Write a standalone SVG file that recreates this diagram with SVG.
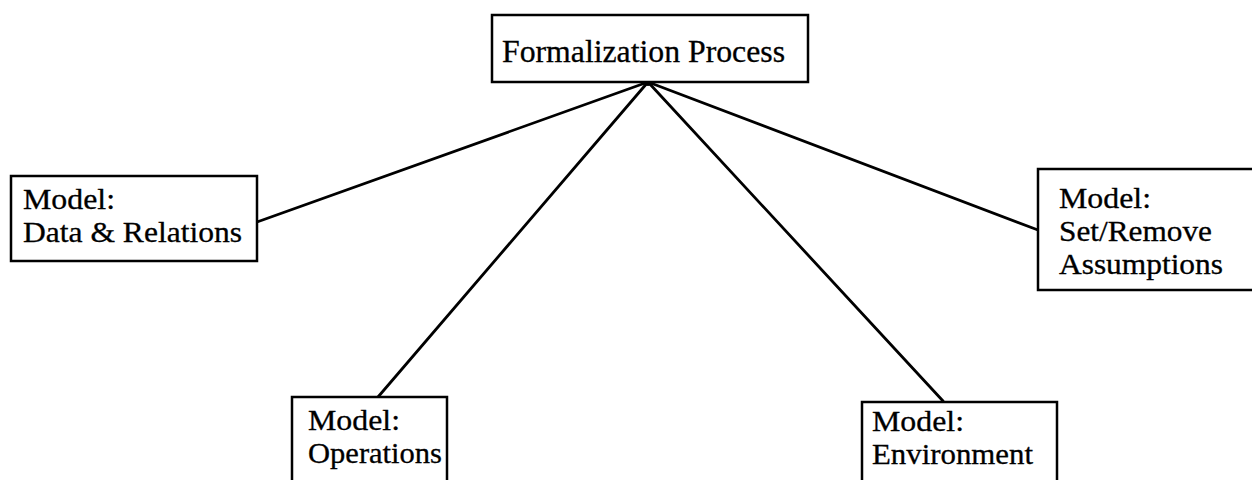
<svg xmlns="http://www.w3.org/2000/svg" width="1252" height="480" viewBox="0 0 1252 480">
<style>
.box{fill:#fff;stroke:#000;stroke-width:2.5}
.lbl{font-family:"Liberation Serif","Times New Roman",serif;font-size:29px;fill:#000;stroke:#000;stroke-width:0.3}
.title{font-size:31px}
.conn{stroke:#000;stroke-width:2.8;fill:none;stroke-linecap:round}
</style>
<rect width="1252" height="480" fill="#fff"/>
<g id="connectors">
<line class="conn" x1="648" y1="82" x2="257" y2="222"/>
<line class="conn" x1="648" y1="82" x2="378" y2="397"/>
<line class="conn" x1="648" y1="82" x2="943" y2="401"/>
<line class="conn" x1="648" y1="82" x2="1038" y2="230"/>
<circle cx="648" cy="83" r="3" fill="#000"/>
</g>
<g id="formalization">
<rect class="box" x="492" y="15" width="316" height="67"/>
<text class="lbl title" x="502" y="62" textLength="283" lengthAdjust="spacingAndGlyphs">Formalization Process</text>
</g>
<g id="data-relations">
<rect class="box" x="11" y="176" width="246" height="85"/>
<text class="lbl" x="23" y="209" textLength="92" lengthAdjust="spacingAndGlyphs">Model:</text>
<text class="lbl" x="23" y="242" textLength="219" lengthAdjust="spacingAndGlyphs">Data &amp; Relations</text>
</g>
<g id="set-remove">
<rect class="box" x="1038" y="169" width="220" height="121"/>
<text class="lbl" x="1059" y="208" textLength="92" lengthAdjust="spacingAndGlyphs">Model:</text>
<text class="lbl" x="1059" y="241" textLength="153" lengthAdjust="spacingAndGlyphs">Set/Remove</text>
<text class="lbl" x="1059" y="274" textLength="164" lengthAdjust="spacingAndGlyphs">Assumptions</text>
</g>
<g id="operations">
<rect class="box" x="292" y="397" width="155" height="100"/>
<text class="lbl" x="308" y="430" textLength="92" lengthAdjust="spacingAndGlyphs">Model:</text>
<text class="lbl" x="308" y="463" textLength="134" lengthAdjust="spacingAndGlyphs">Operations</text>
</g>
<g id="environment">
<rect class="box" x="862" y="402" width="195" height="95"/>
<text class="lbl" x="872" y="431" textLength="92" lengthAdjust="spacingAndGlyphs">Model:</text>
<text class="lbl" x="872" y="464" textLength="161" lengthAdjust="spacingAndGlyphs">Environment</text>
</g>
</svg>
